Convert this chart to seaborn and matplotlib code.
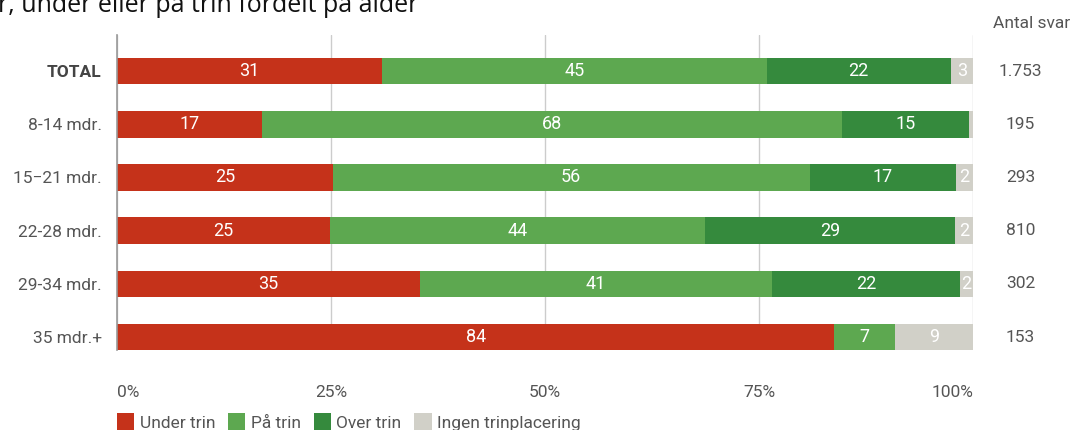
import matplotlib
matplotlib.use("Agg")
import matplotlib.pyplot as plt
import seaborn as sns
import pandas as pd
import numpy as np
from matplotlib.patches import Patch

categories = ["TOTAL", "8-14 mdr.", "15\u221221 mdr.", "22-28 mdr.", "29-34 mdr.", "35 mdr.+"]
under_trin = [31.0, 16.9, 25.2, 24.9, 35.4, 83.8]
paa_trin = [44.9, 67.8, 55.7, 43.8, 41.1, 7.1]
over_trin = [21.5, 14.8, 17.1, 29.2, 22.0, 0.0]
ingen = [2.6, 0.5, 2.0, 2.1, 1.5, 9.1]
antal_svar = ["1.753", "195", "293", "810", "302", "153"]
series_names = ["Under trin", "På trin", "Over trin", "Ingen trinplacering"]
colors = ["#c5321a", "#5da850", "#358a3d", "#d1d0c8"]
title = "r, under eller på trin fordelt på alder"

sns.set_theme(style="white")
plt.rcParams["font.family"] = ["Roboto", "DejaVu Sans"]

fig = plt.figure(figsize=(10.77, 4.30), dpi=100)
ax = fig.add_axes([117/1077, 1-350/430, (973-117)/1077, (350-35)/430])

series = [under_trin, paa_trin, over_trin, ingen]
cum = np.cumsum(np.array(series), axis=0)  # shape 4 x 6
df = pd.DataFrame({"cat": categories})
for i in range(4):
    df[f"c{i}"] = cum[i]

# draw cumulative bars from the largest to the smallest
for i in range(3, -1, -1):
    sns.barplot(data=df, y="cat", x=f"c{i}", order=categories, orient="h",
                color=colors[i], saturation=1, width=0.5, ax=ax, linewidth=0)

# value labels
for j in range(len(categories)):
    left = 0
    for i in range(4):
        v = series[i][j]
        if v >= 1:
            ax.text(left + v/2, j, f"{v:.0f}", ha="center", va="center",
                    color="white", fontsize=13)
        left += v

ax.set_xlim(0, 100)
ax.set_ylim(5.244, -0.677)
ax.set_xticks([0, 25, 50, 75, 100])
ax.set_xticklabels(["0%", "25%", "50%", "75%", "100%"])
ax.set_xlabel("")
ax.set_ylabel("")
ax.grid(axis="x", color="#cccccc", linewidth=1)
ax.set_axisbelow(True)
for s in ["top", "bottom", "right"]:
    ax.spines[s].set_visible(False)
ax.spines["left"].set_color("#999999")
ax.spines["left"].set_linewidth(1.2)
ax.tick_params(axis="x", length=0, pad=25, labelsize=12.5, labelcolor="#555555")
ax.tick_params(axis="y", length=0, pad=11, labelsize=12.5, labelcolor="#555555")
xl = ax.get_xticklabels()
xl[0].set_horizontalalignment("left")
xl[-1].set_horizontalalignment("right")
for lab in ax.get_yticklabels():
    if lab.get_text() == "TOTAL":
        lab.set_fontweight("bold")
        lab.set_color("#444444")

# right column
fig.text(1032/1077, 1-23/430, "Antal svar", ha="center", va="center",
         fontsize=12.5, color="#555555")
for j, n in enumerate(antal_svar):
    ax.text(1.0555, j, n, transform=ax.get_yaxis_transform(), ha="center",
            va="center", fontsize=12.5, color="#555555")

# title (clipped at the top like the reference)
fig.text(-0.002, 1-12/430, title, ha="left", va="baseline", fontsize=18,
         color="#111111", family=["Open Sans", "DejaVu Sans"])

handles = [Patch(facecolor=c, edgecolor="none") for c in colors]
fig.legend(handles, series_names, loc="center left",
           bbox_to_anchor=(117/1077, 1-422/430), ncol=4, frameon=False,
           fontsize=12.5, handlelength=1.0, handleheight=1.1, handletextpad=0.3,
           columnspacing=0.75, labelcolor="#555555", borderaxespad=0, borderpad=0)

fig.savefig("out.png", dpi=100)
